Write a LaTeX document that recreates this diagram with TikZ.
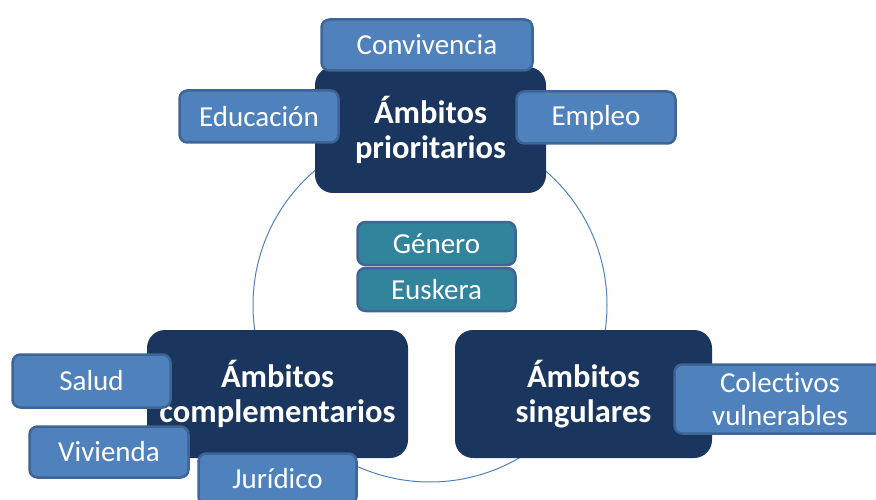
\documentclass[tikz,border=0pt]{standalone}
\usepackage{fontspec}
\setmainfont{Carlito}[Ligatures=NoCommon]
\definecolor{navy}{HTML}{1A365E}
\definecolor{lblue}{HTML}{4F81BD}
\definecolor{bord}{HTML}{3D6596}
\definecolor{tealc}{HTML}{31849B}
\definecolor{ring}{HTML}{4F81BD}
\tikzset{
  hub/.style={fill=navy, rounded corners=18pt, text=white, inner sep=0pt, align=center,
    font=\fontsize{32.5}{35}\selectfont\bfseries},
  leaf/.style={fill=lblue, draw=bord, line width=2.5pt, rounded corners=8pt, text=white, inner sep=0pt,
    align=center, font=\fontsize{29}{33}\selectfont},
  cross/.style={leaf, fill=tealc},
}
\begin{document}
\begin{tikzpicture}[x=1pt,y=-1pt]
\useasboundingbox (0,0) rectangle (876,500);
\begin{scope}
\clip (0,0) rectangle (876,500);
\draw[ring, line width=1pt] (430,305) circle[radius=177];
\node[hub, minimum width=231pt, minimum height=126pt] (hubP) at (430.5,130) {Ámbitos\\prioritarios};
\node[hub, minimum width=261pt, minimum height=128pt] (hubC) at (277.5,394) {Ámbitos\\complementarios};
\node[hub, minimum width=257pt, minimum height=128pt] (hubS) at (583.5,394) {Ámbitos\\singulares};
\node[leaf, minimum width=211pt, minimum height=51pt] (conv) at (427,45) {Convivencia};
\node[leaf, minimum width=159pt, minimum height=52pt] (educ) at (259,116.5) {Educación};
\node[leaf, minimum width=159pt, minimum height=52pt] (empl) at (596,117.5) {Empleo};
\node[cross, minimum width=158pt, minimum height=43pt] (gen) at (436.5,243.5) {Género};
\node[cross, minimum width=158pt, minimum height=43pt] (eus) at (436.5,289.5) {Euskera};
\node[leaf, minimum width=158pt, minimum height=53pt] (salud) at (91.5,381) {Salud};
\node[leaf, minimum width=159pt, minimum height=51pt] (viv) at (109,452) {Vivienda};
\node[leaf, minimum width=158pt, minimum height=51pt] (jur) at (277.5,479) {Jurídico};
\node[leaf, minimum width=211pt, minimum height=69pt] (col) at (780,399) {Colectivos\\vulnerables};
\end{scope}
\end{tikzpicture}
\end{document}
